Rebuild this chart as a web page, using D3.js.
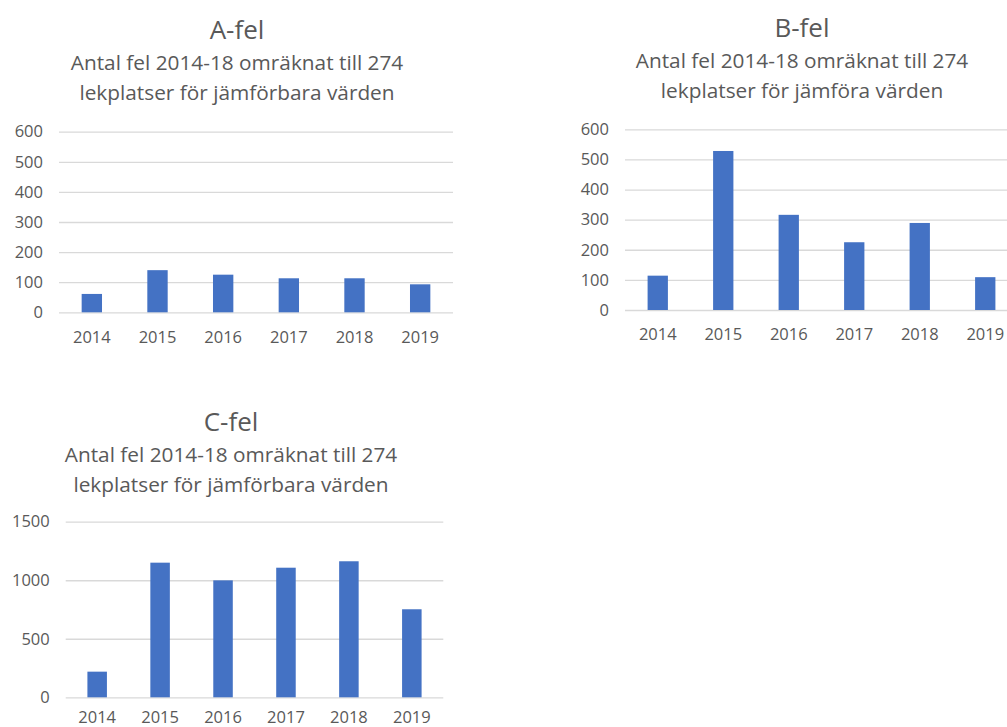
<!DOCTYPE html>
<html>
<head>
<meta charset="utf-8">
<script src="https://d3js.org/d3.v7.min.js"></script>
<style>
  body { margin: 0; background: #fff; }
  svg { display: block; font-family: "Open Sans", sans-serif; }
</style>
</head>
<body>
<svg id="chart" width="1007" height="727"></svg>
<script>
// years on the x axis (shared by all three charts)
var years = ["2014", "2015", "2016", "2017", "2018", "2019"];

// values
var aValues = [61, 140, 125, 113, 113, 93];
var bValues = [114, 528, 316, 225, 289, 109];
var cValues = [219, 1150, 999, 1107, 1162, 752];

// y tick labels
var aTicks = [0, 100, 200, 300, 400, 500, 600];
var bTicks = [0, 100, 200, 300, 400, 500, 600];
var cTicks = [0, 500, 1000, 1500];

var titles = ["A-fel", "B-fel", "C-fel"];
var subA = ["Antal fel 2014-18 omräknat till 274", "lekplatser för jämförbara värden"];
var subB = ["Antal fel 2014-18 omräknat till 274", "lekplatser för jämföra värden"];
var subC = ["Antal fel 2014-18 omräknat till 274", "lekplatser för jämförbara värden"];

var svg = d3.select("#chart");

function panel(opt) {
  var g = svg.append("g");

  var x = d3.scaleBand().domain(years)
    .range([opt.left, opt.right])
    .paddingInner(0.69).paddingOuter(0.345);
  var y = d3.scaleLinear().domain([0, d3.max(opt.ticks)])
    .range([opt.bottom, opt.top]);

  // title + subtitle
  g.append("text")
    .attr("x", opt.cx).attr("y", opt.titleY)
    .attr("text-anchor", "middle")
    .attr("font-size", "26px")
    .attr("fill", "#595959")
    .text(opt.title);
  g.selectAll(".sub")
    .data(opt.sub).enter().append("text")
    .attr("x", opt.cx)
    .attr("y", function(d, i) { return opt.titleY + 31 + i * 30; })
    .attr("text-anchor", "middle")
    .attr("font-size", "20.8px")
    .attr("fill", "#595959")
    .text(function(d) { return d; });

  var yaxis = d3.axisLeft(y).tickValues(opt.ticks).tickFormat(d3.format("d"))
    .tickSize(-(opt.right - opt.left)).tickPadding(16);
  g.append("g")
    .attr("transform", "translate(" + opt.left + ",0)")
    .call(yaxis)
    .call(function(a) {
      a.select(".domain").remove();
      a.selectAll("line").attr("stroke", "#d9d9d9").attr("stroke-width", 1.3);
      a.selectAll("text").attr("fill", "#595959").attr("font-size", "16.5px")
        .attr("font-family", "Open Sans, sans-serif");
    });

  g.selectAll(".bar")
    .data(opt.values).enter().append("rect")
    .attr("x", function(d, i) { return x(years[i]); })
    .attr("y", function(d) { return y(d); })
    .attr("width", x.bandwidth())
    .attr("height", function(d) { return opt.bottom - y(d); })
    .attr("fill", "#4472c4");

  var xaxis = d3.axisBottom(x).tickSize(0).tickPadding(opt.xPad);
  g.append("g")
    .attr("transform", "translate(0," + opt.bottom + ")")
    .call(xaxis)
    .call(function(a) {
      a.select(".domain").remove();
      a.selectAll("text").attr("fill", "#595959").attr("font-size", "16.5px")
        .attr("font-family", "Open Sans, sans-serif");
    });
}

panel({ title: titles[0], sub: subA, values: aValues, ticks: aTicks,
        left: 59, right: 453, top: 131.7, bottom: 312.3, cx: 237, titleY: 39, xPad: 19 });
panel({ title: titles[1], sub: subB, values: bValues, ticks: bTicks,
        left: 625, right: 1018, top: 129.3, bottom: 310, cx: 802, titleY: 37, xPad: 18 });
panel({ title: titles[2], sub: subC, values: cValues, ticks: cTicks,
        left: 65.7, right: 443.3, top: 521.7, bottom: 697.3, cx: 231, titleY: 431, xPad: 14 });
</script>
</body>
</html>
